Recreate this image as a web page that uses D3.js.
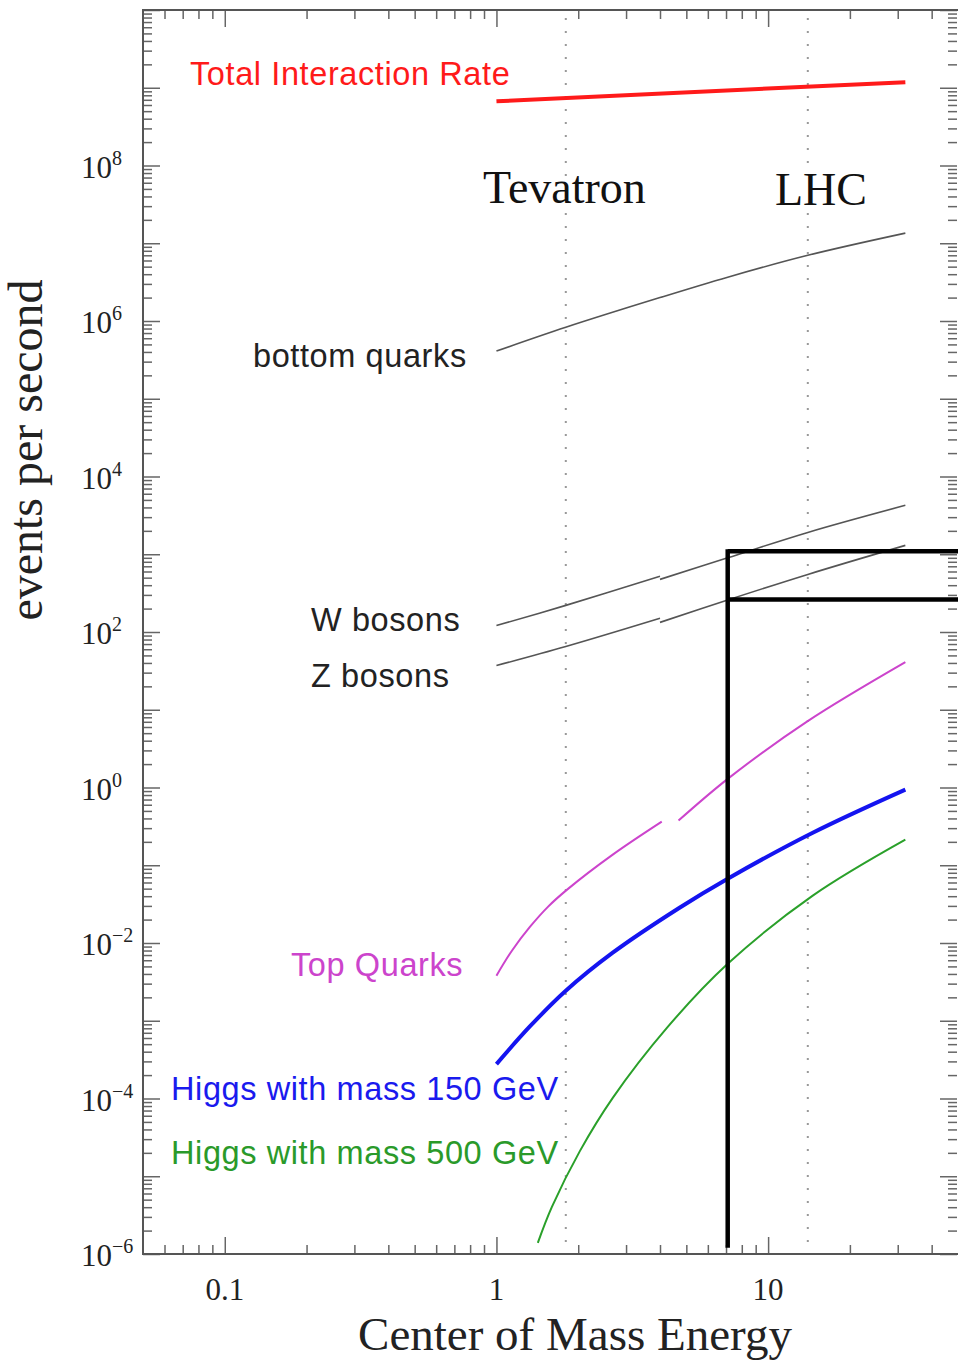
<!DOCTYPE html>
<html>
<head>
<meta charset="utf-8">
<script src="https://cdn.jsdelivr.net/npm/d3@7"></script>
<style>
  body { margin: 0; background: #fff; }
  svg { display: block; }
</style>
</head>
<body>
<div id="chart"></div>
<script>

// collider energies (TeV) and event rates
const totalE = [1, 32];
const totalRate = [6.7e8, 1.18e9];

const bottomE = [1, 1.8, 4, 7.1, 14, 32];
const bottomRate = [4.1e5, 8.3e5, 2.0e6, 3.66e6, 7.0e6, 1.35e7];

const wPpbarE = [1, 1.8, 4];
const wPpbarRate = [121, 220, 520];
const wPpE = [4, 7.1, 14, 32];
const wPpRate = [475, 900, 1910, 4260];

const zPpbarE = [1, 1.8, 4];
const zPpbarRate = [37, 65, 150];
const zPpE = [4, 7.1, 14, 32];
const zPpRate = [133, 258, 550, 1300];

const topPpbarE = [1, 1.14, 1.33, 1.55, 1.82, 2.68, 4.06];
const topPpbarRate = [3.8e-3, 7.96e-3, 0.0162, 0.0294, 0.0486, 0.137, 0.364];
const topPpE = [4.68, 7.1, 13.9, 32];
const topPpRate = [0.375, 1.29, 7.05, 41];

const higgs150E = [1, 1.33, 1.8, 2.68, 4.72, 7.1, 14.6, 32];
const higgs150Rate = [2.77e-4, 8.5e-4, 2.43e-3, 7.5e-3, 0.0284, 0.0671, 0.262, 0.94];

const higgs500E = [1.42, 1.6, 2.03, 2.68, 4.24, 7.1, 14.6, 32];
const higgs500Rate = [1.39e-6, 4.03e-6, 2.12e-5, 1.02e-4, 8.1e-4, 5.4e-3, 0.0406, 0.213];

const machineE = [1.8, 14];
const machineNames = ["Tevatron", "LHC"];

const xTickLabels = ["0.1", "1", "10"];
const yLabelExps = [8, 6, 4, 2, 0, -2, -4, -6];

// marker box drawn over the plot
const boxE = [7.1, 50];
const boxRate = [1.2e-6, 1090, 262];


const width = 958, height = 1361;
const plotLeft = 143, plotRight = 958, plotTop = 10, plotBottom = 1254;

let svg = d3.select("#chart").append("svg")
    .attr("width", width)
    .attr("height", height);

let x = d3.scaleLog().domain([0.05, 50]).range([plotLeft, plotRight]);
let y = d3.scaleLog().domain([1e-6, 1e10]).range([plotBottom, plotTop]);

function zip(es, rs) {
    return es.map(function (e, i) { return { e: e, r: rs[i] }; });
}

let line = d3.line()
    .x(function (d) { return x(d.e); })
    .y(function (d) { return y(d.r); })
    .curve(d3.curveCatmullRom.alpha(0.5));

// ticks
let xMajor = [0.1, 1, 10];
let xMinor = [];
[0.01, 0.1, 1, 10].forEach(function (dec) {
    for (let k = 2; k <= 9; k++) {
        let v = dec * k;
        if (v > 0.05 && v < 50) xMinor.push(v);
    }
});
let yMajor = [], yMinor = [];
for (let p = -6; p <= 10; p++) {
    yMajor.push(Math.pow(10, p));
    if (p < 10) for (let k = 2; k <= 9; k++) yMinor.push(k * Math.pow(10, p));
}

let tickColor = "#666";

function addAxis(axis, transform, values, size) {
    let g = svg.append("g")
        .attr("transform", transform)
        .call(axis.tickValues(values).tickSize(size).tickSizeOuter(0).tickFormat(""));
    g.select(".domain").remove();
    g.selectAll(".tick line").attr("stroke", tickColor).attr("stroke-width", 1.5);
}

addAxis(d3.axisBottom(x), "translate(0," + plotBottom + ")", xMajor, -17);
addAxis(d3.axisBottom(x), "translate(0," + plotBottom + ")", xMinor, -9);
addAxis(d3.axisTop(x), "translate(0," + plotTop + ")", xMajor, -17);
addAxis(d3.axisTop(x), "translate(0," + plotTop + ")", xMinor, -9);
addAxis(d3.axisLeft(y), "translate(" + plotLeft + ",0)", yMajor, -17);
addAxis(d3.axisLeft(y), "translate(" + plotLeft + ",0)", yMinor, -9);
addAxis(d3.axisRight(y), "translate(" + (plotRight - 1) + ",0)", yMajor, -17);
addAxis(d3.axisRight(y), "translate(" + (plotRight - 1) + ",0)", yMinor, -9);

// frame
svg.append("rect")
    .attr("x", plotLeft).attr("y", plotTop)
    .attr("width", plotRight + 2 - plotLeft).attr("height", plotBottom - plotTop)
    .attr("fill", "none")
    .attr("stroke", "#555")
    .attr("stroke-width", 2);

// dotted machine lines
svg.selectAll(".machine")
    .data(machineE)
    .enter().append("line")
    .attr("class", "machine")
    .attr("x1", function (d) { return x(d); })
    .attr("x2", function (d) { return x(d); })
    .attr("y1", plotTop + 8)
    .attr("y2", plotBottom - 4)
    .attr("stroke", "#999")
    .attr("stroke-width", 2)
    .attr("stroke-dasharray", "2,11");

// tick labels
let serif = "'Liberation Serif', 'Times New Roman', serif";
let sans = "'Liberation Sans', Arial, Helvetica, sans-serif";

svg.selectAll(".xlab")
    .data(xTickLabels)
    .enter().append("text")
    .attr("x", function (d) { return x(+d); })
    .attr("y", 1300)
    .attr("text-anchor", "middle")
    .attr("font-family", serif)
    .attr("font-size", 31)
    .attr("fill", "#222")
    .text(function (d) { return d; });

let ylab = svg.selectAll(".ylab")
    .data(yLabelExps)
    .enter().append("text")
    .attr("x", 81)
    .attr("y", function (d) { return y(Math.pow(10, d)) + 12; })
    .attr("font-family", serif)
    .attr("font-size", 31)
    .attr("fill", "#222");
ylab.append("tspan").text("10");
ylab.append("tspan")
    .attr("dy", -13)
    .attr("font-size", 20)
    .text(function (d) { return d < 0 ? "\u2212" + (-d) : d; });

// axis titles
svg.append("text")
    .attr("x", 575).attr("y", 1350)
    .attr("text-anchor", "middle")
    .attr("font-family", serif)
    .attr("font-size", 47)
    .attr("fill", "#222")
    .text("Center of Mass Energy");

svg.append("text")
    .attr("transform", "translate(42,450) rotate(-90)")
    .attr("text-anchor", "middle")
    .attr("font-family", serif)
    .attr("font-size", 48)
    .attr("fill", "#222")
    .text("events per second");

// machine names (white halo hides the dotted lines behind them)
svg.selectAll(".mname")
    .data(machineNames)
    .enter().append("text")
    .attr("x", function (d, i) { return [483, 775][i]; })
    .attr("y", function (d, i) { return [203, 205][i]; })
    .attr("font-family", serif)
    .attr("font-size", 46)
    .attr("fill", "#111")
    .attr("stroke", "#fff")
    .attr("stroke-width", 10)
    .attr("paint-order", "stroke")
    .text(function (d) { return d; });

// curves
let curves = [
    { e: totalE, r: totalRate, color: "#ff1a1a", w: 4 },
    { e: bottomE, r: bottomRate, color: "#555", w: 1.6 },
    { e: wPpbarE, r: wPpbarRate, color: "#555", w: 1.6 },
    { e: wPpE, r: wPpRate, color: "#555", w: 1.6 },
    { e: zPpbarE, r: zPpbarRate, color: "#555", w: 1.6 },
    { e: zPpE, r: zPpRate, color: "#555", w: 1.6 },
    { e: topPpbarE, r: topPpbarRate, color: "#cc44cc", w: 2 },
    { e: topPpE, r: topPpRate, color: "#cc44cc", w: 2 },
    { e: higgs150E, r: higgs150Rate, color: "#1414f0", w: 4 },
    { e: higgs500E, r: higgs500Rate, color: "#2aa02a", w: 2 }
];

svg.selectAll(".curve")
    .data(curves)
    .enter().append("path")
    .attr("class", "curve")
    .attr("fill", "none")
    .attr("stroke", function (d) { return d.color; })
    .attr("stroke-width", function (d) { return d.w; })
    .attr("d", function (d) { return line(zip(d.e, d.r)); });

// curve labels
let labels = [
    { t: "Total Interaction Rate", x: 190, y: 85, c: "#ff1a1a" },
    { t: "bottom quarks", x: 253, y: 367, c: "#222" },
    { t: "W bosons", x: 311, y: 631, c: "#222" },
    { t: "Z bosons", x: 311, y: 687, c: "#222" },
    { t: "Top Quarks", x: 291, y: 976, c: "#cc44cc" },
    { t: "Higgs with mass 150 GeV", x: 171, y: 1100, c: "#1a1aee" },
    { t: "Higgs with mass 500 GeV", x: 171, y: 1164, c: "#2a9a2a" }
];

svg.selectAll(".clabel")
    .data(labels)
    .enter().append("text")
    .attr("x", function (d) { return d.x; })
    .attr("y", function (d) { return d.y; })
    .attr("font-family", sans)
    .attr("font-size", 32.5)
    .attr("letter-spacing", 0.6)
    .attr("fill", function (d) { return d.c; })
    .text(function (d) { return d.t; });

// black marker box
let box = svg.append("g")
    .attr("stroke", "#000")
    .attr("stroke-width", 4.5)
    .attr("fill", "none");
box.append("line")
    .attr("x1", x(boxE[0])).attr("x2", x(boxE[0]))
    .attr("y1", y(boxRate[0])).attr("y2", y(boxRate[1]) - 2);
box.append("line")
    .attr("x1", x(boxE[0])).attr("x2", x(boxE[1]))
    .attr("y1", y(boxRate[1])).attr("y2", y(boxRate[1]));
box.append("line")
    .attr("x1", x(boxE[0])).attr("x2", x(boxE[1]))
    .attr("y1", y(boxRate[2])).attr("y2", y(boxRate[2]));

</script>
</body>
</html>
